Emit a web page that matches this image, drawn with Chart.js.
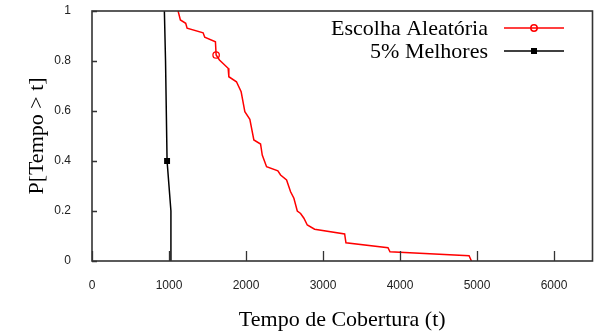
<!DOCTYPE html>
<html>
<head>
<meta charset="utf-8">
<script src="https://cdn.jsdelivr.net/npm/chart.js@4/dist/chart.umd.min.js"></script>
<style>
html,body{margin:0;padding:0;background:#fff;}
#wrap{width:596px;height:336px;position:relative;}
</style>
</head>
<body>
<div id="wrap"><canvas id="c" width="596" height="336"></canvas></div>
<script>
// ---- data ----
const seriesNames = ["Escolha Aleatória", "5% Melhores"];
const randomX = [1118,1148,1217,1235,1443,1464,1603,1612,1655,1768,1777,1876,1937,1985,2050,2102,2189,2211,2267,2414,2449,2527,2579,2622,2666,2709,2752,2796,2891,3281,3298,3844,3870,4897,4928];
const randomY = [1.0,0.964,0.951,0.931,0.913,0.895,0.877,0.824,0.804,0.771,0.737,0.717,0.677,0.597,0.567,0.484,0.468,0.424,0.377,0.361,0.344,0.324,0.277,0.251,0.2,0.19,0.171,0.144,0.127,0.108,0.073,0.053,0.037,0.021,0.0];
const randomMarkerIdx = [7];
const bestX = [940,955,975,1000,1025,1025];
const bestY = [1.0,0.8,0.4,0.3,0.2,0.0];
const bestMarkerIdx = [2];
const xTicks = [0,1000,2000,3000,4000,5000,6000];
const yTicks = [0,0.2,0.4,0.6,0.8,1];
const xTitle = "Tempo de Cobertura (t)";
const yTitle = "P[Tempo > t]";

const toPts = (xs, ys) => xs.map((x, i) => ({x: x, y: ys[i]}));
const radii = (n, idx, r) => Array.from({length: n}, (_, i) => idx.includes(i) ? r : 0);

const serif = "'Liberation Serif','Times New Roman',serif";
const sans = "'Liberation Sans',Arial,sans-serif";

const framePlugin = {
  id: 'frame',
  afterDatasetsDraw(chart) {
    const {ctx, chartArea: a, scales} = chart;
    ctx.save();
    ctx.strokeStyle = '#333';
    ctx.lineWidth = 1.3;
    // inward ticks
    ctx.beginPath();
    xTicks.forEach(v => {
      const px = Math.round(scales.x.getPixelForValue(v)) + 0.5;
      ctx.moveTo(px, a.bottom); ctx.lineTo(px, a.bottom - 10);
    });
    yTicks.forEach(v => {
      const py = Math.round(scales.y.getPixelForValue(v)) + 0.5;
      ctx.moveTo(a.left, py); ctx.lineTo(a.left + 5, py);
    });
    ctx.stroke();
    ctx.lineWidth = 1.6;
    ctx.strokeRect(a.left, a.top, a.right - a.left, a.bottom - a.top);
    // legend
    ctx.font = "22px " + serif;
    ctx.textAlign = 'right';
    ctx.textBaseline = 'middle';
    chart.data.datasets.forEach((ds, i) => {
      const y = 28 + i * 23;
      ctx.fillStyle = '#000';
      ctx.fillText(ds.label, 488, y + 1);
      ctx.strokeStyle = ds.borderColor;
      ctx.lineWidth = 1.5;
      ctx.beginPath(); ctx.moveTo(504, y); ctx.lineTo(564, y); ctx.stroke();
      if (ds.pointStyle === 'rect') {
        ctx.fillStyle = ds.borderColor;
        ctx.fillRect(534 - 3, y - 3, 6, 6);
      } else {
        ctx.beginPath(); ctx.arc(534, y, 3.2, 0, Math.PI * 2); ctx.stroke();
      }
    });
    ctx.restore();
  }
};

new Chart(document.getElementById('c'), {
  type: 'line',
  data: {
    datasets: [
      {
        label: seriesNames[0],
        data: toPts(randomX, randomY),
        borderColor: '#ff0000',
        backgroundColor: 'rgba(0,0,0,0)',
        borderWidth: 1.5,
        pointStyle: 'circle',
        pointRadius: radii(randomX.length, randomMarkerIdx, 3.2),
        pointBorderWidth: 1.3,
        pointBorderColor: '#ff0000',
        pointBackgroundColor: 'rgba(0,0,0,0)',
        tension: 0
      },
      {
        label: seriesNames[1],
        data: toPts(bestX, bestY),
        borderColor: '#000000',
        backgroundColor: '#000000',
        borderWidth: 1.5,
        pointStyle: 'rect',
        pointRadius: radii(bestX.length, bestMarkerIdx, 4.2),
        pointBorderWidth: 0,
        pointBackgroundColor: '#000000',
        tension: 0
      }
    ]
  },
  options: {
    responsive: false,
    animation: false,
    layout: {padding: {left: 0, right: 3.5, top: 11, bottom: 0}, autoPadding: false},
    plugins: {legend: {display: false}, tooltip: {enabled: false}},
    scales: {
      x: {
        type: 'linear', min: 0, max: 6500,
        afterBuildTicks(s) { s.ticks = xTicks.map(v => ({value: v})); },
        afterFit(s) { s.height = 75; s.paddingLeft = 0; s.paddingRight = 0; },
        grid: {display: false}, border: {display: false},
        ticks: {font: {family: sans, size: 12}, color: '#222', padding: 9, maxRotation: 0,
          callback: v => String(v)},
        title: {display: true, text: xTitle, font: {family: serif, size: 22}, color: '#000', padding: {top: 0, bottom: 3}}
      },
      y: {
        type: 'linear', min: 0, max: 1,
        afterBuildTicks(s) { s.ticks = yTicks.map(v => ({value: v})); },
        afterFit(s) { s.width = 92; s.paddingTop = 0; s.paddingBottom = 0; },
        grid: {display: false}, border: {display: false},
        ticks: {font: {family: sans, size: 12}, color: '#222', padding: 13,
          callback: v => String(v)},
        title: {display: true, text: yTitle, font: {family: serif, size: 22}, color: '#000', padding: {top: 24, bottom: 0}}
      }
    }
  },
  plugins: [framePlugin]
});
</script>
</body>
</html>
